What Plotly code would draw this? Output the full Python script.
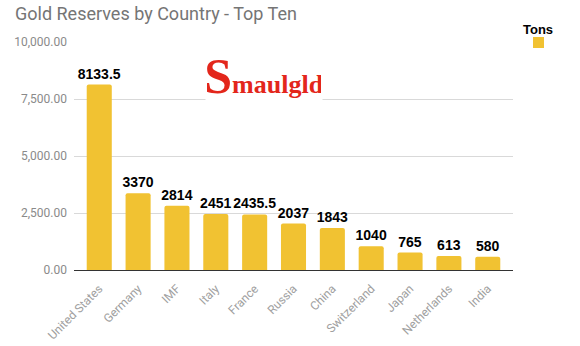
import plotly.graph_objects as go

countries = ["United States", "Germany", "IMF", "Italy", "France", "Russia",
             "China", "Switzerland", "Japan", "Netherlands", "India"]
tons = [8133.5, 3370, 2814, 2451, 2435.5, 2037, 1843, 1040, 765, 613, 580]
labels = ["8133.5", "3370", "2814", "2451", "2435.5", "2037", "1843", "1040", "765", "613", "580"]
y_ticks = [0, 2500, 5000, 7500, 10000]

GOLD = "#F1C232"

fig = go.Figure()
fig.add_trace(go.Bar(
    x=countries, y=tons, name="Tons",
    marker=dict(color=GOLD, line=dict(width=0), cornerradius=2),
    text=labels, textposition="outside", cliponaxis=False,
    textfont=dict(family="Liberation Sans", size=14, color="#000000", weight="bold"),
    showlegend=False,
))

fig.update_layout(
    width=580, height=346,
    margin=dict(l=74, r=67, t=42, b=76),
    paper_bgcolor="white", plot_bgcolor="white",
    bargap=0.355,
    uniformtext=dict(minsize=14, mode="show"),
    title=dict(text="Gold Reserves by Country - Top Ten", x=15/580, xanchor="left",
               y=1-14/346, yanchor="middle", xref="container", yref="container",
               font=dict(family="Roboto", size=18, color="#757575")),
    xaxis=dict(range=[-0.65, 10.65], tickangle=-45, showgrid=False,
               showline=True, linecolor="#333333", linewidth=1,
               tickfont=dict(family="Roboto", size=12, color="#a0a0a0"), ticks="",
               ticklabelstandoff=6, automargin=False),
    yaxis=dict(range=[0, 10000], tickvals=y_ticks, tickformat=",.2f",
               showgrid=True, gridcolor="#d9d9d9", gridwidth=1, zeroline=False,
               tickfont=dict(family="Roboto", size=12, color="#8a8a8a"),
               ticklabelstandoff=6, fixedrange=True, automargin=False),
    annotations=[
        dict(text="<span style='font-size:50px'>S</span>maulgld", xref="paper", yref="paper",
             x=0.433, y=0.851, xanchor="center", yanchor="middle", showarrow=False,
             font=dict(family="Liberation Serif", size=26, color="#E3261B", weight="bold"),
             bgcolor="white", width=114, height=52),
        dict(text="<b>Tons</b>", xref="paper", yref="paper", x=1.057, y=1.053,
             xanchor="center", yanchor="middle", showarrow=False,
             font=dict(family="Liberation Sans", size=13, color="#000000")),
    ],
    shapes=[
        dict(type="rect", xref="paper", yref="paper", x0=1.0456, x1=1.0706,
             y0=0.9737, y1=1.0219, fillcolor=GOLD, line=dict(width=0)),
    ],
)

fig.write_html("out.html")
